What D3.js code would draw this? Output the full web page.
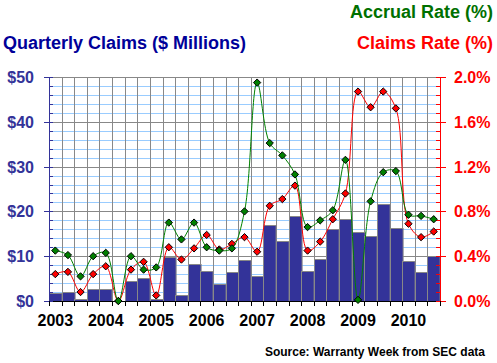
<!DOCTYPE html>
<html>
<head>
<meta charset="utf-8">
<script src="https://cdn.jsdelivr.net/npm/d3@7"></script>
<style>
  body { margin: 0; background: #fff; }
  text { font-family: Arial, "Liberation Sans", sans-serif; font-weight: bold; }
</style>
</head>
<body>
<script>
// Quarterly data, 2003 Q1 .. 2010 Q3
const years = [2003, 2004, 2005, 2006, 2007, 2008, 2009, 2010];
const claims = [1.7, 1.9, 0.4, 2.6, 2.6, 0.0, 4.5, 5.1, 0.4, 9.9, 1.3, 8.3, 6.7, 3.7, 6.5, 9.2,
                5.5, 17.0, 13.4, 19.0, 6.7, 9.3, 16.1, 18.2, 15.4, 14.4, 21.7, 16.4, 8.9, 6.5, 10.0];
const accrualRate = [0.45, 0.41, 0.22, 0.40, 0.43, 0.0, 0.40, 0.28, 0.30, 0.70, 0.55, 0.70, 0.48, 0.45, 0.47, 0.80,
                     1.95, 1.41, 1.30, 1.13, 0.66, 0.72, 0.81, 1.26, 0.01, 0.89, 1.15, 1.16, 0.77, 0.76, 0.73];
const claimsRate = [0.24, 0.26, 0.08, 0.24, 0.31, 0.0, 0.28, 0.35, 0.05, 0.48, 0.37, 0.47, 0.59, 0.46, 0.51, 0.57,
                    0.44, 0.85, 0.91, 1.03, 0.45, 0.53, 0.73, 0.96, 1.87, 1.73, 1.87, 1.72, 0.69, 0.57, 0.62];
const leftTicks = [0, 10, 20, 30, 40, 50];
const rightTicks = [0, 0.4, 0.8, 1.2, 1.6, 2.0];

// Size of the chart
const W = 497, H = 363;
const m = {left: 49, right: 440, top: 77, bottom: 301};

const svg = d3.select("body").append("svg")
    .attr("width", W)
    .attr("height", H);

const n = claims.length;
const x = d3.scaleBand().domain(d3.range(n)).range([m.left, m.right]).padding(0);
const yL = d3.scaleLinear().domain([0, 50]).range([m.bottom, m.top]);
const yR = d3.scaleLinear().domain([0, 2]).range([m.bottom, m.top]);
const px = v => Math.round(v) + 0.5;

// minor horizontal grid (light blue)
svg.append("g").selectAll("line")
  .data(d3.range(0, 50.01, 2).filter(v => v % 10 !== 0))
  .enter().append("line")
  .attr("x1", m.left).attr("x2", m.right)
  .attr("y1", d => px(yL(d))).attr("y2", d => px(yL(d)))
  .attr("stroke", "#99ccff");

// major grid
svg.append("g").selectAll("line")
  .data(leftTicks.slice(1))
  .enter().append("line")
  .attr("x1", m.left).attr("x2", m.right)
  .attr("y1", d => px(yL(d))).attr("y2", d => px(yL(d)))
  .attr("stroke", "#888");

svg.append("g").selectAll("line")
  .data(d3.range(1, n + 1))
  .enter().append("line")
  .attr("x1", d => px(m.left + d * x.step()))
  .attr("x2", d => px(m.left + d * x.step()))
  .attr("y1", m.top).attr("y2", m.bottom)
  .attr("stroke", "#888");

// bars
svg.append("g").selectAll("rect")
  .data(claims)
  .enter().append("rect")
  .attr("x", (d, i) => px(x(i)))
  .attr("y", d => px(yL(d)))
  .attr("width", x.bandwidth())
  .attr("height", d => m.bottom - Math.round(yL(d)))
  .attr("fill", "#333399")
  .attr("stroke", "#888");

// axes
const ax = svg.append("g");
ax.append("line").attr("x1", m.left + 0.5).attr("x2", m.left + 0.5).attr("y1", m.top).attr("y2", m.bottom + 5).attr("stroke", "#333399");
ax.append("line").attr("x1", m.right + 0.5).attr("x2", m.right + 0.5).attr("y1", m.top).attr("y2", m.bottom).attr("stroke", "red");
ax.append("line").attr("x1", m.left).attr("x2", m.right).attr("y1", m.bottom + 0.5).attr("y2", m.bottom + 0.5).attr("stroke", "#000");

const minor = d3.range(0, 50.01, 2);
ax.selectAll(".lt").data(minor).enter().append("line")
  .attr("x1", d => d % 10 === 0 ? m.left - 5 : m.left).attr("x2", m.left + 4)
  .attr("y1", d => px(yL(d))).attr("y2", d => px(yL(d)))
  .attr("stroke", "#333399");
ax.selectAll(".rt").data(minor).enter().append("line")
  .attr("x1", m.right - 4).attr("x2", d => d % 10 === 0 ? m.right + 6 : m.right)
  .attr("y1", d => px(yL(d))).attr("y2", d => px(yL(d)))
  .attr("stroke", "red");
ax.selectAll(".bt").data(d3.range(0, n + 1)).enter().append("line")
  .attr("x1", d => px(m.left + d * x.step()))
  .attr("x2", d => px(m.left + d * x.step()))
  .attr("y1", m.bottom).attr("y2", m.bottom + 5)
  .attr("stroke", "#000");

// axis labels
svg.append("g").selectAll("text").data(leftTicks).enter().append("text")
  .attr("x", 34).attr("y", d => yL(d) + 6)
  .attr("text-anchor", "end").attr("font-size", 16).attr("fill", "#333399")
  .text(d => "$" + d);
svg.append("g").selectAll("text").data(rightTicks).enter().append("text")
  .attr("x", 454).attr("y", d => yR(d) + 6)
  .attr("font-size", 16).attr("fill", "red")
  .text(d => d.toFixed(1) + "%");
svg.append("g").selectAll("text").data(years).enter().append("text")
  .attr("x", (d, i) => x(i * 4) + x.bandwidth() / 2).attr("y", 326)
  .attr("text-anchor", "middle").attr("font-size", 16).attr("fill", "#000")
  .text(d => d);

// smoothed lines + diamond markers
const line = d3.line()
  .x((d, i) => x(i) + x.bandwidth() / 2)
  .y(d => yR(d))
  .curve(d3.curveCatmullRom.alpha(0.5));

function series(vals, color) {
  svg.append("path").datum(vals)
    .attr("d", line)
    .attr("fill", "none").attr("stroke", color).attr("stroke-width", 1);
  svg.append("g").selectAll("path").data(vals).enter().append("path")
    .attr("d", d3.symbol(d3.symbolDiamond2, 34))
    .attr("transform", (d, i) => `translate(${x(i) + x.bandwidth() / 2},${yR(d)})`)
    .attr("fill", color).attr("stroke", "#000").attr("stroke-width", 1);
}
series(claimsRate, "#ff0000");
series(accrualRate, "#008000");

// titles
svg.append("text").attr("x", 493).attr("y", 18).attr("text-anchor", "end")
  .attr("font-size", 18).attr("fill", "#007000").text("Accrual Rate (%)");
svg.append("text").attr("x", 493).attr("y", 49).attr("text-anchor", "end")
  .attr("font-size", 18).attr("fill", "red").text("Claims Rate (%)");
svg.append("text").attr("x", 3).attr("y", 49)
  .attr("font-size", 18).attr("fill", "#000099").text("Quarterly Claims ($ Millions)");
svg.append("text").attr("x", 485).attr("y", 356).attr("text-anchor", "end")
  .attr("font-size", 12).attr("fill", "#000").text("Source: Warranty Week from SEC data");
</script>
</body>
</html>
